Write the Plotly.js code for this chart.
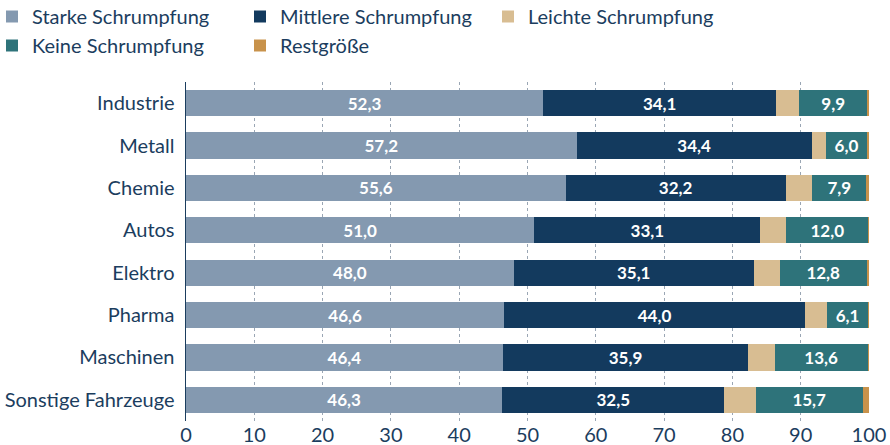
<!DOCTYPE html>
<html>
<head>
<meta charset="utf-8">
<script src="https://cdn.plot.ly/plotly-3.0.1.min.js"></script>
<style>html,body{margin:0;padding:0;background:#fff;}#chart{width:890px;height:445px;}</style>
</head>
<body>
<div id="chart"></div>
<script>
const categories = ["Industrie", "Metall", "Chemie", "Autos", "Elektro", "Pharma", "Maschinen", "Sonstige Fahrzeuge"];
const starke   = [52.3, 57.2, 55.6, 51.0, 48.0, 46.6, 46.4, 46.3];
const mittlere = [34.1, 34.4, 32.2, 33.1, 35.1, 44.0, 35.9, 32.5];
const leichte  = [3.4, 2.1, 3.9, 3.8, 3.8, 3.2, 3.9, 4.6];
const keine    = [9.9, 6.0, 7.9, 12.0, 12.8, 6.1, 13.6, 15.7];
const rest     = [0.3, 0.3, 0.4, 0.1, 0.3, 0.1, 0.2, 0.9];
const seriesNames = ["Starke Schrumpfung", "Mittlere Schrumpfung", "Leichte Schrumpfung", "Keine Schrumpfung", "Restgröße"];
const xTicks = [0, 10, 20, 30, 40, 50, 60, 70, 80, 90, 100];

const FONT = "Lato, 'Source Sans Pro', sans-serif";
const TXT = "#1b3d5e";
const colors = ["#8499b0", "#133a5e", "#d8bd92", "#2e737a", "#c8924b"];
const values = [starke, mittlere, leichte, keine, rest];
const labelled = [true, true, false, true, false];

const M = {l: 186, r: 21, t: 82, b: 24};
const plotW = 890 - M.l - M.r;
const plotH = 445 - M.t - M.b;

const traces = values.map((v, i) => ({
  type: "bar",
  orientation: "h",
  name: seriesNames[i],
  y: categories,
  x: v,
  marker: {color: colors[i], line: {width: 0}},
  texttemplate: labelled[i] ? "%{x:.1f}" : "",
  textposition: labelled[i] ? "inside" : "none",
  insidetextanchor: "middle",
  constraintext: "none",
  textfont: {family: FONT, color: "#ffffff", size: 17, weight: 700},
  hoverinfo: "none"
}));

const layout = {
  width: 890, height: 445,
  margin: {l: M.l, r: M.r, t: M.t, b: M.b, pad: 0, autoexpand: false},
  barmode: "stack",
  bargap: 0.38,
  separators: ",.",
  paper_bgcolor: "#ffffff",
  plot_bgcolor: "#ffffff",
  font: {family: FONT, color: TXT, size: 20},
  showlegend: true,
  legend: {
    orientation: "h",
    x: (-8 - M.l) / plotW, xanchor: "left",
    y: 1 + (M.t - 65) / plotH, yanchor: "bottom",
    entrywidth: 203, entrywidthmode: "pixels",
    traceorder: "normal",
    font: {family: FONT, color: TXT, size: 20},
    itemclick: false, itemdoubleclick: false,
    bgcolor: "rgba(0,0,0,0)"
  },
  xaxis: {
    range: [0, 100], tickvals: xTicks, ticktext: xTicks.map(String),
    showgrid: true, gridcolor: "#9aa6b4", griddash: "dot", gridwidth: 1,
    zeroline: false, showline: false, ticks: "",
    tickfont: {family: FONT, size: 20, color: TXT},
    automargin: false, fixedrange: true
  },
  yaxis: {
    type: "category", autorange: "reversed",
    showgrid: false, zeroline: false,
    showline: true, linecolor: "#1b3d5e", linewidth: 1.5,
    ticks: "", ticklabelstandoff: 6,
    tickfont: {family: FONT, size: 20, color: TXT},
    automargin: false, fixedrange: true
  }
};

Plotly.newPlot("chart", traces, layout, {displayModeBar: false, staticPlot: true});
</script>
</body>
</html>
